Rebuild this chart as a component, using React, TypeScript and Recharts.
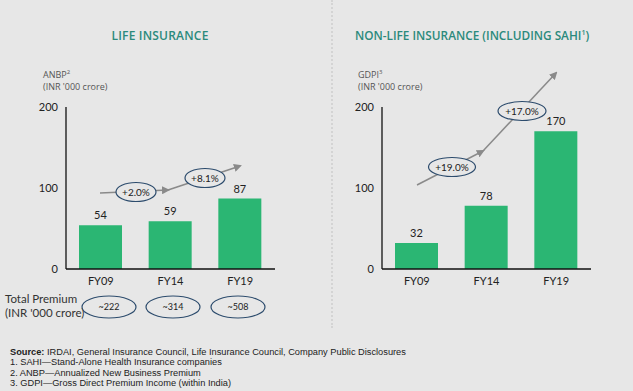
import React from "react";
import { BarChart, Bar, XAxis, YAxis, LabelList } from "recharts";

const years = ["FY09", "FY14", "FY19"];
const lifeAnbp = [54, 59, 87];
const nonLifeGdpi = [32, 78, 170];
const totalPremium = ["~222", "~314", "~508"];
const lifeGrowth = ["+2.0%", "+8.1%"];
const nonLifeGrowth = ["+19.0%", "+17.0%"];
const yTicks = [0, 100, 200];

const lifeData = years.map((y, i) => ({ year: y, value: lifeAnbp[i] }));
const nonLifeData = years.map((y, i) => ({ year: y, value: nonLifeGdpi[i] }));

const BG = "#e7e7e7";
const GREEN = "#2bb673";
const TEAL = "#2b8a7c";
const NAVY = "#2d4c6d";
const ARROW = "#8a8a8a";
const CHART_FONT = "Lato, 'Open Sans', sans-serif";

// premium ovals sit slightly off the bar centres in the original
const premiumX = [109, 173, 238];

function Panel({ data, left }: { data: any[]; left: number }) {
  return (
    <div style={{ position: "absolute", left, top: 0 }}>
      <BarChart width={290} height={300} data={data} margin={{ top: 107, right: 15, bottom: 1, left: 36 }}>
        <YAxis
          domain={[0, 200]}
          ticks={yTicks}
          width={30}
          tickLine={false}
          axisLine={{ stroke: "#111", strokeWidth: 1.3 }}
          tick={{ fontSize: 11, fill: "#222", fontFamily: CHART_FONT }}
          interval={0}
        />
        <XAxis
          dataKey="year"
          height={30}
          tickLine={false}
          axisLine={{ stroke: "#111", strokeWidth: 1.3 }}
          tick={{ fontSize: 11, fill: "#222", fontFamily: CHART_FONT }}
          interval={0}
        />
        <Bar dataKey="value" fill={GREEN} barSize={43} isAnimationActive={false}>
          <LabelList dataKey="value" position="top" offset={6} fontSize={11} fill="#222" fontFamily={CHART_FONT} />
        </Bar>
      </BarChart>
    </div>
  );
}

function Bubble({ cx, cy, rx, ry = 9.5, label, size = 10 }: { cx: number; cy: number; rx: number; ry?: number; label: string; size?: number }) {
  return (
    <g>
      <ellipse cx={cx} cy={cy} rx={rx} ry={ry} fill={BG} stroke={NAVY} strokeWidth={1.2} />
      <text x={cx} y={cy + size * 0.35} textAnchor="middle" fontSize={size} fill="#222" fontFamily={CHART_FONT}>
        {label}
      </text>
    </g>
  );
}

export default function App() {
  return (
    <div style={{ position: "absolute", left: 0, top: 0, width: 633, height: 391, background: BG, overflow: "hidden", fontFamily: "'Open Sans', sans-serif" }}>
      <div style={{ position: "absolute", left: 331, top: 0, height: 328, borderLeft: "2px dotted #d4d4d4" }} />

      <div style={{ position: "absolute", left: 0, width: 320, top: 27, textAlign: "center", color: TEAL, fontSize: 12, fontWeight: 600, letterSpacing: 0.2 }}>
        LIFE INSURANCE
      </div>
      <div style={{ position: "absolute", left: 355, top: 27, color: TEAL, fontSize: 11.8, fontWeight: 600, letterSpacing: 0, whiteSpace: "nowrap" }}>
        NON-LIFE INSURANCE (INCLUDING SAHI<sup style={{ fontSize: 7 }}>1</sup>)
      </div>

      <div style={{ position: "absolute", left: 43, top: 66, color: "#555", fontSize: 9, lineHeight: "12px" }}>
        ANBP<sup style={{ fontSize: 6 }}>2</sup>
        <br />
        (INR '000 crore)
      </div>
      <div style={{ position: "absolute", left: 358, top: 66, color: "#555", fontSize: 9, lineHeight: "12px" }}>
        GDPI<sup style={{ fontSize: 6 }}>3</sup>
        <br />
        (INR '000 crore)
      </div>

      <Panel data={lifeData} left={0} />
      <Panel data={nonLifeData} left={316} />

      <div style={{ position: "absolute", left: 5, top: 292, color: "#333", fontSize: 11.5, lineHeight: "14px", fontFamily: CHART_FONT }}>
        Total Premium
        <br />
        (INR '000 crore)
      </div>

      <svg width={633} height={391} style={{ position: "absolute", left: 0, top: 0, pointerEvents: "none" }}>
        <defs>
          <marker id="ah" markerWidth="8" markerHeight="8" refX="6" refY="4" orient="auto" markerUnits="userSpaceOnUse">
            <path d="M0,0 L8,4 L0,8 z" fill={ARROW} />
          </marker>
        </defs>
        <line x1={100} y1={193} x2={168} y2={190} stroke={ARROW} strokeWidth={1.5} markerEnd="url(#ah)" />
        <line x1={168} y1={190} x2={240} y2={166} stroke={ARROW} strokeWidth={1.5} markerEnd="url(#ah)" />
        <Bubble cx={136} cy={192} rx={20} label={lifeGrowth[0]} />
        <Bubble cx={205} cy={178} rx={20} label={lifeGrowth[1]} />

        <line x1={417} y1={185} x2={483} y2={151} stroke={ARROW} strokeWidth={1.5} markerEnd="url(#ah)" />
        <line x1={483} y1={151} x2={556} y2={73} stroke={ARROW} strokeWidth={1.5} markerEnd="url(#ah)" />
        <Bubble cx={452} cy={167} rx={23.5} label={nonLifeGrowth[0]} />
        <Bubble cx={522} cy={111} rx={24} label={nonLifeGrowth[1]} />

        {totalPremium.map((t, i) => (
          <Bubble key={t} cx={premiumX[i]} cy={307} rx={27} ry={11} label={t} size={9} />
        ))}
      </svg>

      <div style={{ position: "absolute", left: 10, top: 347, color: "#222", fontSize: 9.25, lineHeight: "10.3px", fontFamily: "'Liberation Sans', Arial, sans-serif" }}>
        <div><b>Source:</b> IRDAI, General Insurance Council, Life Insurance Council, Company Public Disclosures</div>
        <div>1. SAHI—Stand-Alone Health Insurance companies</div>
        <div>2. ANBP—Annualized New Business Premium</div>
        <div>3. GDPI—Gross Direct Premium Income (within India)</div>
      </div>
    </div>
  );
}
